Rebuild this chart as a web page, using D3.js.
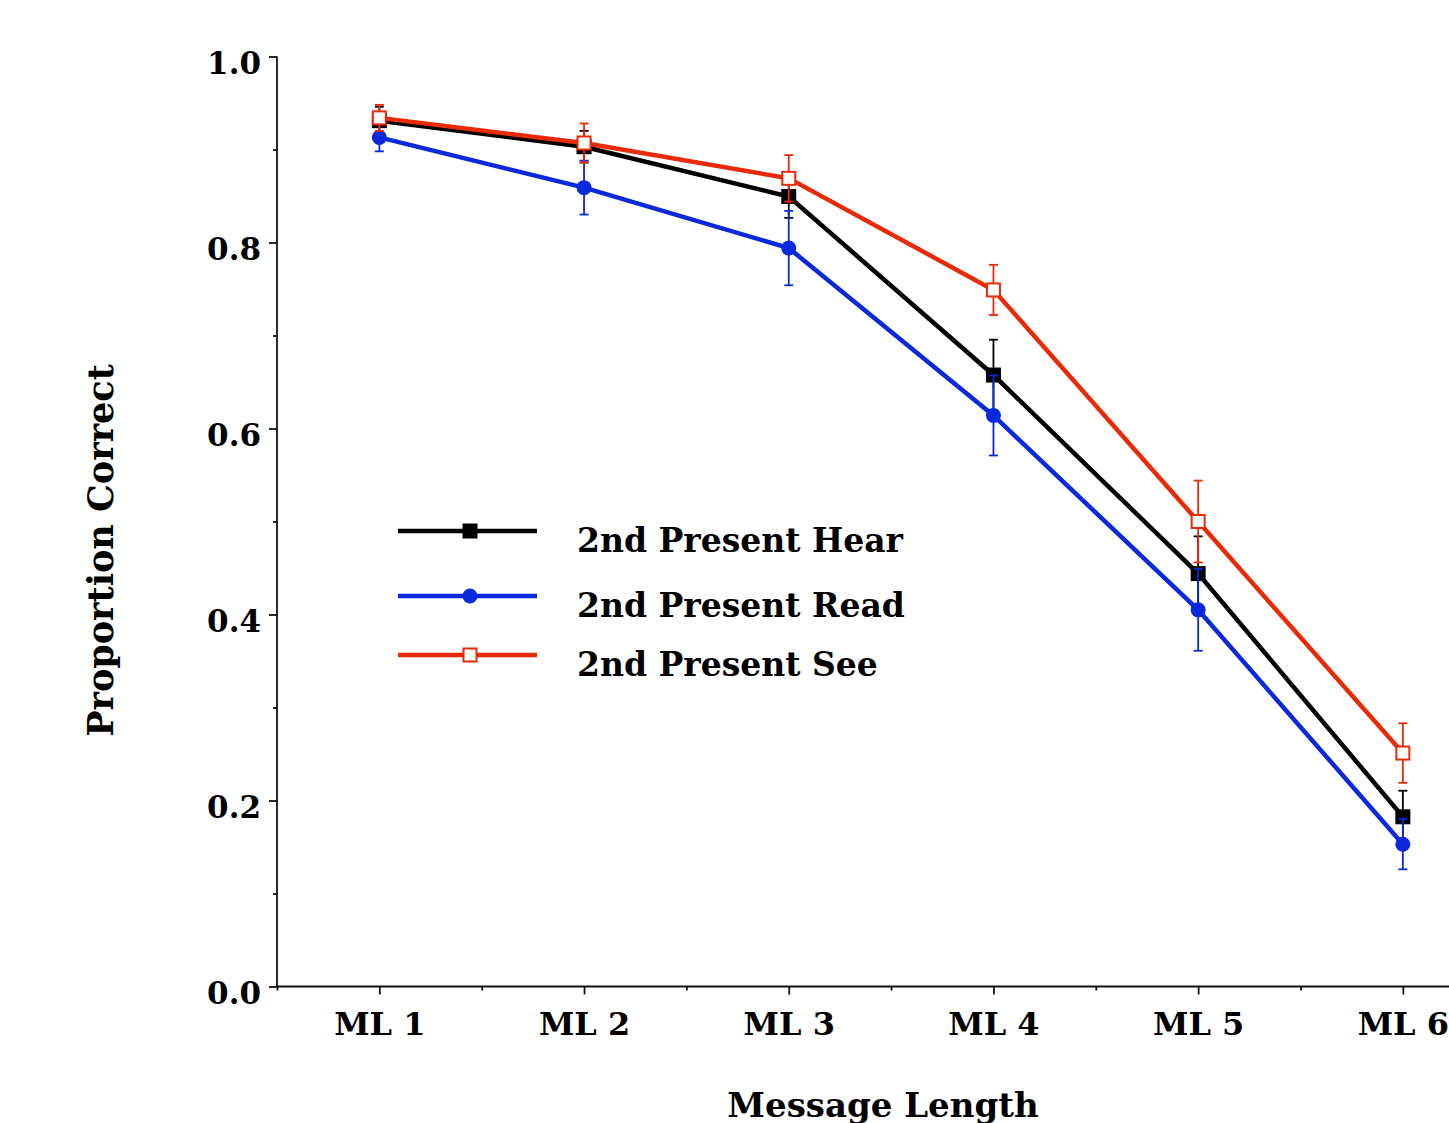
<!DOCTYPE html>
<html>
<head>
<meta charset="utf-8">
<script src="https://cdn.jsdelivr.net/npm/d3@7"></script>
<style>
  body { margin: 0; background: #fff; }
  svg { display: block; }
  text { font-family: "DejaVu Serif", serif; font-weight: bold; fill: #000; }
</style>
</head>
<body>
<svg width="1449" height="1123"></svg>
<script>
// data
const categories = ["ML 1", "ML 2", "ML 3", "ML 4", "ML 5", "ML 6"];
const seriesNames = ["2nd Present Hear", "2nd Present Read", "2nd Present See"];
const hearMean = [0.931, 0.903, 0.8495, 0.6575, 0.444, 0.1825];
const hearErr  = [0.015, 0.017, 0.023, 0.038, 0.040, 0.028];
const readMean = [0.913, 0.859, 0.794, 0.614, 0.405, 0.153];
const readErr  = [0.015, 0.029, 0.040, 0.043, 0.044, 0.027];
const seeMean  = [0.934, 0.907, 0.869, 0.749, 0.500, 0.251];
const seeErr   = [0.014, 0.021, 0.025, 0.027, 0.044, 0.032];
const yTicks = [0, 0.2, 0.4, 0.6, 0.8, 1.0];
const yMinor = [0.1, 0.3, 0.5, 0.7, 0.9];

const svg = d3.select("svg");
const x0 = 277, spacing = 204.7;
const yTop = 56.5, yBottom = 986.5;

const x = d3.scaleLinear().domain([0.5, 6.5]).range([x0, x0 + 6 * spacing]);
const y = d3.scaleLinear().domain([0, 1]).range([yBottom, yTop]);

const series = [
  { name: seriesNames[0], mean: hearMean, err: hearErr, color: "#000000", marker: "filledSquare" },
  { name: seriesNames[1], mean: readMean, err: readErr, color: "#0a28dc", marker: "circle" },
  { name: seriesNames[2], mean: seeMean,  err: seeErr,  color: "#e82a08", marker: "openSquare" }
];

// axes
const yAxis = svg.append("g")
  .attr("transform", `translate(${x0},0)`)
  .call(d3.axisLeft(y).tickValues(yTicks).tickSize(8).tickPadding(8).tickFormat(d3.format(".1f")));
yAxis.selectAll("text").attr("font-size", 31).attr("dy", "0.55em")
  .attr("font-family", "DejaVu Serif").attr("font-weight", "bold");
svg.append("g")
  .attr("transform", `translate(${x0},0)`)
  .call(d3.axisLeft(y).tickValues(yMinor).tickSize(4).tickFormat(""))
  .select(".domain").remove();

const xAxis = svg.append("g")
  .attr("transform", `translate(0,${yBottom})`)
  .call(d3.axisBottom(x).tickValues([1, 2, 3, 4, 5, 6]).tickSize(8).tickPadding(18)
    .tickFormat(d => categories[d - 1]));
xAxis.selectAll("text").attr("font-size", 32)
  .attr("font-family", "DejaVu Serif").attr("font-weight", "bold");
svg.append("g")
  .attr("transform", `translate(0,${yBottom})`)
  .call(d3.axisBottom(x).tickValues([0.5, 1.5, 2.5, 3.5, 4.5, 5.5]).tickSize(4).tickFormat(""))
  .select(".domain").remove();

svg.selectAll(".domain, .tick line").attr("stroke", "#111").attr("stroke-width", 1.8);
yAxis.select(".domain").attr("d", `M0,${yTop}V${yBottom}`);
xAxis.select(".domain").attr("d", `M${x0},0H1449`);

// axis titles
svg.append("text")
  .attr("transform", `translate(113,${(yTop + yBottom) / 2 + 29}) rotate(-90)`)
  .attr("text-anchor", "middle")
  .attr("font-size", 35)
  .text("Proportion Correct");

svg.append("text")
  .attr("x", 883).attr("y", 1117)
  .attr("text-anchor", "middle")
  .attr("font-size", 34)
  .text("Message Length");

function drawMarker(sel, s, cx, cy) {
  if (s.marker === "circle") {
    sel.append("circle").attr("cx", cx).attr("cy", cy).attr("r", 7.5).attr("fill", s.color);
  } else if (s.marker === "filledSquare") {
    sel.append("rect").attr("x", cx - 7.5).attr("y", cy - 7.5).attr("width", 15).attr("height", 15)
      .attr("fill", s.color);
  } else {
    sel.append("rect").attr("x", cx - 6.5).attr("y", cy - 6.5).attr("width", 13).attr("height", 13)
      .attr("fill", "#fff").attr("stroke", s.color).attr("stroke-width", 2);
  }
}

const line = d3.line().x((d, i) => x(i + 1)).y(d => y(d));

series.forEach(s => {
  const g = svg.append("g");
  // error bars
  s.mean.forEach((m, i) => {
    const cx = x(i + 1);
    const lo = y(m - s.err[i]), hi = y(m + s.err[i]);
    g.append("line").attr("x1", cx).attr("x2", cx).attr("y1", lo).attr("y2", hi)
      .attr("stroke", s.color).attr("stroke-width", 1.8);
    [lo, hi].forEach(yy => g.append("line")
      .attr("x1", cx - 4.5).attr("x2", cx + 4.5).attr("y1", yy).attr("y2", yy)
      .attr("stroke", s.color).attr("stroke-width", 1.8));
  });
  g.append("path").datum(s.mean).attr("d", line)
    .attr("fill", "none").attr("stroke", s.color).attr("stroke-width", 4.5);
  s.mean.forEach((m, i) => drawMarker(g, s, x(i + 1), y(m)));
});

// legend
const legendRows = [531, 596, 655];
series.forEach((s, i) => {
  const ly = legendRows[i];
  const lg = svg.append("g");
  lg.append("line").attr("x1", 398).attr("x2", 537).attr("y1", ly).attr("y2", ly)
    .attr("stroke", s.color).attr("stroke-width", 4.5);
  drawMarker(lg, s, 470, ly);
  lg.append("text").attr("x", 577).attr("y", ly + 21).attr("font-size", 33).text(s.name);
});
</script>
</body>
</html>
